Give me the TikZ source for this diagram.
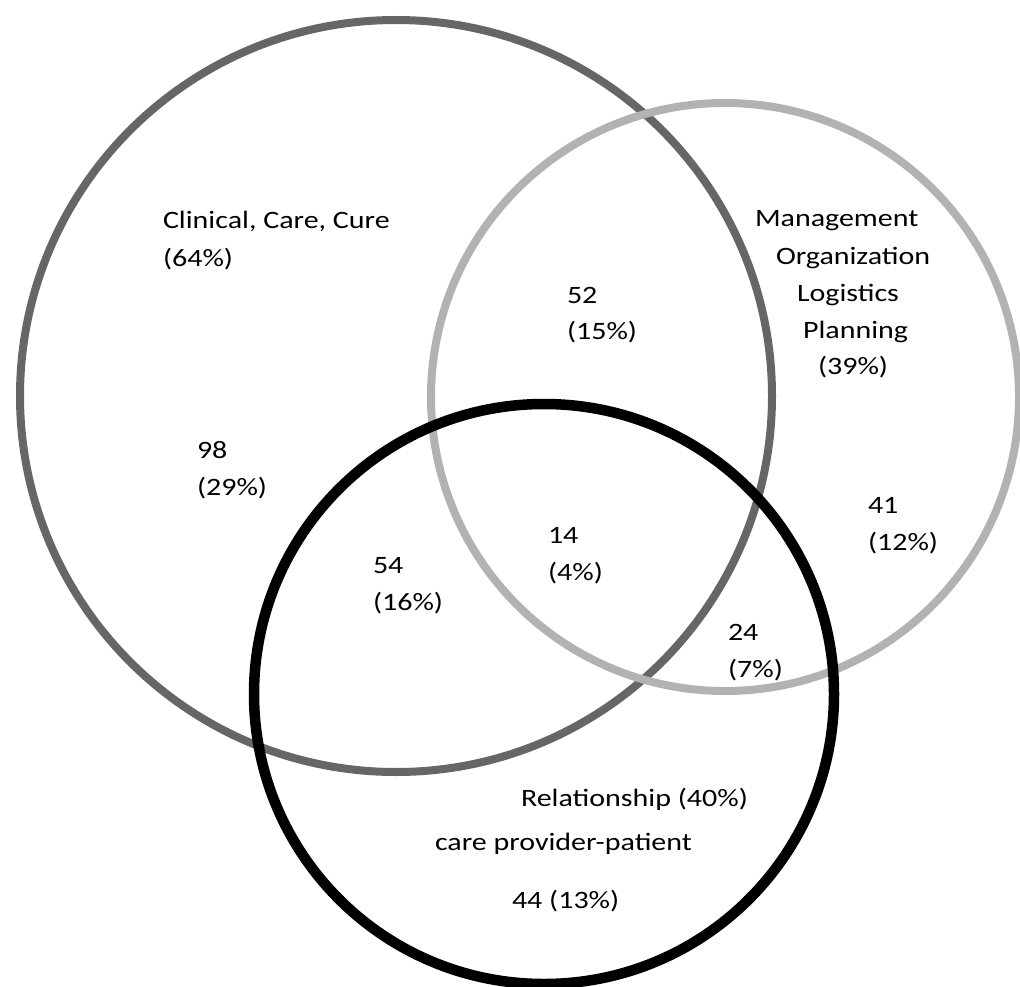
\documentclass[tikz,border=0pt]{standalone}
\usepackage{fontspec}
\setmainfont{Carlito}[FakeStretch=1.2]
\definecolor{clinicalgray}{HTML}{666666}
\definecolor{mgmtgray}{HTML}{B2B2B2}
\begin{document}
\begin{tikzpicture}[x=1pt,y=-1pt,
  lbl/.style={inner sep=0pt,outer sep=0pt,anchor=base west,font=\fontsize{25}{30}\selectfont},
  ring/.style={draw,fill=none}]
\useasboundingbox (0,0) rectangle (1020,987);
% circles
\node[ring,circle,minimum size=752pt,line width=8pt,draw=clinicalgray] (clin) at (396,396) {};
\node[ring,circle,minimum size=588pt,line width=8pt,draw=mgmtgray] (mgmt) at (725,397) {};
\node[ring,circle,minimum size=580pt,line width=10.5pt,draw=black] (rel) at (544,694) {};
% labels
\node[lbl] (c1) at (163,229) {Clinical, Care, Cure};
\node[lbl] (c2) at (163,266) {(64\%)};
\node[lbl] (m1) at (755,227) {Management};
\node[lbl] (m2) at (776,264) {Organization};
\node[lbl] (m3) at (797,301) {Logistics};
\node[lbl] (m4) at (803,338) {Planning};
\node[lbl] (m5) at (818,374) {(39\%)};
\node[lbl] (a1) at (567,303) {52};
\node[lbl] (a2) at (567,339) {(15\%)};
\node[lbl] (b1) at (197,458) {98};
\node[lbl] (b2) at (197,495) {(29\%)};
\node[lbl] (d1) at (548,543) {14};
\node[lbl] (d2) at (548,580) {(4\%)};
\node[lbl] (e1) at (373,573) {54};
\node[lbl] (e2) at (373,610) {(16\%)};
\node[lbl] (f1) at (868,513) {41};
\node[lbl] (f2) at (868,550) {(12\%)};
\node[lbl] (g1) at (728,640) {24};
\node[lbl] (g2) at (728,677) {(7\%)};
\node[lbl] (r1) at (521,806) {Relationship (40\%)};
\node[lbl] (r2) at (435,850) {care provider-patient};
\node[lbl] (r3) at (512,908) {44 (13\%)};
\end{tikzpicture}
\end{document}
